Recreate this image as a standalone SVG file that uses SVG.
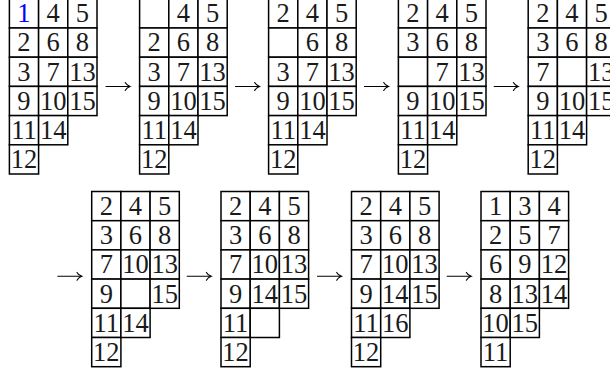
<svg xmlns="http://www.w3.org/2000/svg" xmlns:xlink="http://www.w3.org/1999/xlink" width="610" height="374" viewBox="0 0 610 374">
<style>
.cell{fill:#fff;stroke:#000;stroke-width:1.5}
text{font-family:'Liberation Serif','DejaVu Serif',serif;font-size:26.5px;fill:#1a1a1a;text-anchor:middle}
.b{fill:#0000ff}
.arr{fill:none;stroke:#000;stroke-width:1.1;stroke-linecap:round}
</style>
<defs>
<g id="shape">
<rect class="cell" x="0" y="0" width="29.2" height="29.2"/>
<rect class="cell" x="29.2" y="0" width="29.2" height="29.2"/>
<rect class="cell" x="58.4" y="0" width="29.2" height="29.2"/>
<rect class="cell" x="0" y="29.2" width="29.2" height="29.2"/>
<rect class="cell" x="29.2" y="29.2" width="29.2" height="29.2"/>
<rect class="cell" x="58.4" y="29.2" width="29.2" height="29.2"/>
<rect class="cell" x="0" y="58.4" width="29.2" height="29.2"/>
<rect class="cell" x="29.2" y="58.4" width="29.2" height="29.2"/>
<rect class="cell" x="58.4" y="58.4" width="29.2" height="29.2"/>
<rect class="cell" x="0" y="87.6" width="29.2" height="29.2"/>
<rect class="cell" x="29.2" y="87.6" width="29.2" height="29.2"/>
<rect class="cell" x="58.4" y="87.6" width="29.2" height="29.2"/>
<rect class="cell" x="0" y="116.8" width="29.2" height="29.2"/>
<rect class="cell" x="29.2" y="116.8" width="29.2" height="29.2"/>
<rect class="cell" x="0" y="146" width="29.2" height="29.2"/>
</g>
<g id="arrow">
<path class="arr" d="M0,0 H23.5"/>
<path class="arr" d="M19.2,-3.9 Q20.6,-1.2 24,0 Q20.6,1.2 19.2,3.9"/>
</g>
</defs>

<g id="tableau1" transform="translate(9.4,-1.2)">
<use xlink:href="#shape"/>
<text class="b" x="14.6" y="23.5">1</text><text x="43.8" y="23.5">4</text><text x="73" y="23.5">5</text>
<text x="14.6" y="52.7">2</text><text x="43.8" y="52.7">6</text><text x="73" y="52.7">8</text>
<text x="14.6" y="81.9">3</text><text x="43.8" y="81.9">7</text><text x="73" y="81.9">13</text>
<text x="14.6" y="111.1">9</text><text x="43.8" y="111.1">10</text><text x="73" y="111.1">15</text>
<text x="14.6" y="140.3">11</text><text x="43.8" y="140.3">14</text>
<text x="14.6" y="169.5">12</text>
</g>

<g id="tableau2" transform="translate(139.6,-1.2)">
<use xlink:href="#shape"/>
<text x="43.8" y="23.5">4</text><text x="73" y="23.5">5</text>
<text x="14.6" y="52.7">2</text><text x="43.8" y="52.7">6</text><text x="73" y="52.7">8</text>
<text x="14.6" y="81.9">3</text><text x="43.8" y="81.9">7</text><text x="73" y="81.9">13</text>
<text x="14.6" y="111.1">9</text><text x="43.8" y="111.1">10</text><text x="73" y="111.1">15</text>
<text x="14.6" y="140.3">11</text><text x="43.8" y="140.3">14</text>
<text x="14.6" y="169.5">12</text>
</g>

<g id="tableau3" transform="translate(268.6,-1.2)">
<use xlink:href="#shape"/>
<text x="14.6" y="23.5">2</text><text x="43.8" y="23.5">4</text><text x="73" y="23.5">5</text>
<text x="43.8" y="52.7">6</text><text x="73" y="52.7">8</text>
<text x="14.6" y="81.9">3</text><text x="43.8" y="81.9">7</text><text x="73" y="81.9">13</text>
<text x="14.6" y="111.1">9</text><text x="43.8" y="111.1">10</text><text x="73" y="111.1">15</text>
<text x="14.6" y="140.3">11</text><text x="43.8" y="140.3">14</text>
<text x="14.6" y="169.5">12</text>
</g>

<g id="tableau4" transform="translate(398.4,-1.2)">
<use xlink:href="#shape"/>
<text x="14.6" y="23.5">2</text><text x="43.8" y="23.5">4</text><text x="73" y="23.5">5</text>
<text x="14.6" y="52.7">3</text><text x="43.8" y="52.7">6</text><text x="73" y="52.7">8</text>
<text x="43.8" y="81.9">7</text><text x="73" y="81.9">13</text>
<text x="14.6" y="111.1">9</text><text x="43.8" y="111.1">10</text><text x="73" y="111.1">15</text>
<text x="14.6" y="140.3">11</text><text x="43.8" y="140.3">14</text>
<text x="14.6" y="169.5">12</text>
</g>

<g id="tableau5" transform="translate(528.2,-1.2)">
<use xlink:href="#shape"/>
<text x="14.6" y="23.5">2</text><text x="43.8" y="23.5">4</text><text x="73" y="23.5">5</text>
<text x="14.6" y="52.7">3</text><text x="43.8" y="52.7">6</text><text x="73" y="52.7">8</text>
<text x="14.6" y="81.9">7</text><text x="73" y="81.9">13</text>
<text x="14.6" y="111.1">9</text><text x="43.8" y="111.1">10</text><text x="73" y="111.1">15</text>
<text x="14.6" y="140.3">11</text><text x="43.8" y="140.3">14</text>
<text x="14.6" y="169.5">12</text>
</g>

<g id="tableau6" transform="translate(91.7,191.5)">
<use xlink:href="#shape"/>
<text x="14.6" y="23.5">2</text><text x="43.8" y="23.5">4</text><text x="73" y="23.5">5</text>
<text x="14.6" y="52.7">3</text><text x="43.8" y="52.7">6</text><text x="73" y="52.7">8</text>
<text x="14.6" y="81.9">7</text><text x="43.8" y="81.9">10</text><text x="73" y="81.9">13</text>
<text x="14.6" y="111.1">9</text><text x="73" y="111.1">15</text>
<text x="14.6" y="140.3">11</text><text x="43.8" y="140.3">14</text>
<text x="14.6" y="169.5">12</text>
</g>

<g id="tableau7" transform="translate(221,191.5)">
<use xlink:href="#shape"/>
<text x="14.6" y="23.5">2</text><text x="43.8" y="23.5">4</text><text x="73" y="23.5">5</text>
<text x="14.6" y="52.7">3</text><text x="43.8" y="52.7">6</text><text x="73" y="52.7">8</text>
<text x="14.6" y="81.9">7</text><text x="43.8" y="81.9">10</text><text x="73" y="81.9">13</text>
<text x="14.6" y="111.1">9</text><text x="43.8" y="111.1">14</text><text x="73" y="111.1">15</text>
<text x="14.6" y="140.3">11</text>
<text x="14.6" y="169.5">12</text>
</g>

<g id="tableau8" transform="translate(351.5,191.5)">
<use xlink:href="#shape"/>
<text x="14.6" y="23.5">2</text><text x="43.8" y="23.5">4</text><text x="73" y="23.5">5</text>
<text x="14.6" y="52.7">3</text><text x="43.8" y="52.7">6</text><text x="73" y="52.7">8</text>
<text x="14.6" y="81.9">7</text><text x="43.8" y="81.9">10</text><text x="73" y="81.9">13</text>
<text x="14.6" y="111.1">9</text><text x="43.8" y="111.1">14</text><text x="73" y="111.1">15</text>
<text x="14.6" y="140.3">11</text><text x="43.8" y="140.3">16</text>
<text x="14.6" y="169.5">12</text>
</g>

<g id="tableau9" transform="translate(481,191.5)">
<use xlink:href="#shape"/>
<text x="14.6" y="23.5">1</text><text x="43.8" y="23.5">3</text><text x="73" y="23.5">4</text>
<text x="14.6" y="52.7">2</text><text x="43.8" y="52.7">5</text><text x="73" y="52.7">7</text>
<text x="14.6" y="81.9">6</text><text x="43.8" y="81.9">9</text><text x="73" y="81.9">12</text>
<text x="14.6" y="111.1">8</text><text x="43.8" y="111.1">13</text><text x="73" y="111.1">14</text>
<text x="14.6" y="140.3">10</text><text x="43.8" y="140.3">15</text>
<text x="14.6" y="169.5">11</text>
</g>

<g id="connectors">
<use xlink:href="#arrow" x="106" y="86.5"/>
<use xlink:href="#arrow" x="235.5" y="86.5"/>
<use xlink:href="#arrow" x="364.5" y="86.5"/>
<use xlink:href="#arrow" x="494.2" y="86.5"/>
<use xlink:href="#arrow" x="57.8" y="276.3"/>
<use xlink:href="#arrow" x="187.2" y="276.3"/>
<use xlink:href="#arrow" x="317.5" y="276.3"/>
<use xlink:href="#arrow" x="447.2" y="276.3"/>
</g>
</svg>
